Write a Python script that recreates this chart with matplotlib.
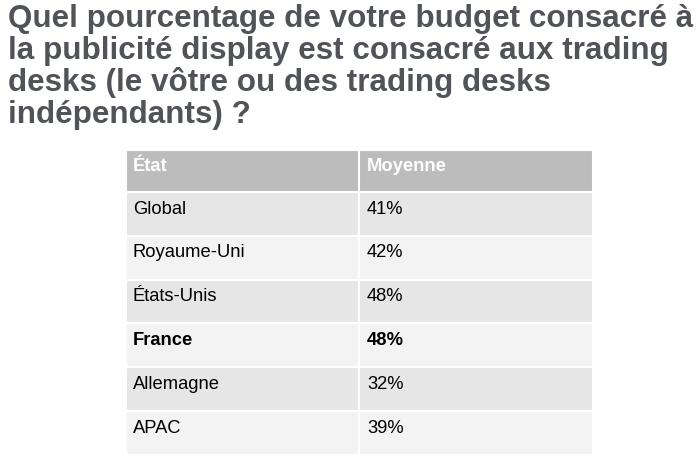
import matplotlib.pyplot as plt
from matplotlib.patches import Rectangle

# Table content
title = ("Quel pourcentage de votre budget consacré à\n"
         "la publicité display est consacré aux trading\n"
         "desks (le vôtre ou des trading desks\n"
         "indépendants) ?")
headers = ["État", "Moyenne"]
regions = ["Global", "Royaume-Uni", "États-Unis", "France", "Allemagne", "APAC"]
averages = [41, 42, 48, 48, 32, 39]
bold_rows = ["France"]

plt.rcParams['font.family'] = ['Liberation Sans', 'DejaVu Sans']

fig = plt.figure(figsize=(6.98, 4.73), dpi=100)
ax = fig.add_axes([0, 0, 1, 1])
ax.set_xlim(0, 698)
ax.set_ylim(473, 0)
ax.axis('off')

ax.text(8, 4, title, fontsize=22.6, fontweight='bold', color='#505357',
        va='top', ha='left', linespacing=1.07)

# table geometry (pixels)
x0, x_mid, x1 = 126, 359, 593
y_top, head_h, row_h = 150, 42, 43.8
gap = 1.5

def cell(x, y, w, h, color):
    ax.add_patch(Rectangle((x, y), w, h, facecolor=color, edgecolor='white',
                           linewidth=gap))

# header
cell(x0, y_top, x_mid - x0, head_h, '#bcbcbc')
cell(x_mid, y_top, x1 - x_mid, head_h, '#bcbcbc')
ax.text(x0 + 7, y_top + 16.5, headers[0], color='white', fontsize=13.2,
        fontweight='bold', va='center')
ax.text(x_mid + 8, y_top + 16.5, headers[1], color='white', fontsize=13.2,
        fontweight='bold', va='center')

for i, (reg, val) in enumerate(zip(regions, averages)):
    y = y_top + head_h + i * row_h
    color = '#e6e6e6' if i % 2 == 0 else '#f3f3f3'
    cell(x0, y, x_mid - x0, row_h, color)
    cell(x_mid, y, x1 - x_mid, row_h, color)
    weight = 'bold' if reg in bold_rows else 'normal'
    ax.text(x0 + 7, y + 17, reg, color='black', fontsize=13.2,
            fontweight=weight, va='center')
    ax.text(x_mid + 8, y + 17, f"{val}%", color='black', fontsize=13.2,
            fontweight=weight, va='center')

fig.savefig('out.png', dpi=100)
